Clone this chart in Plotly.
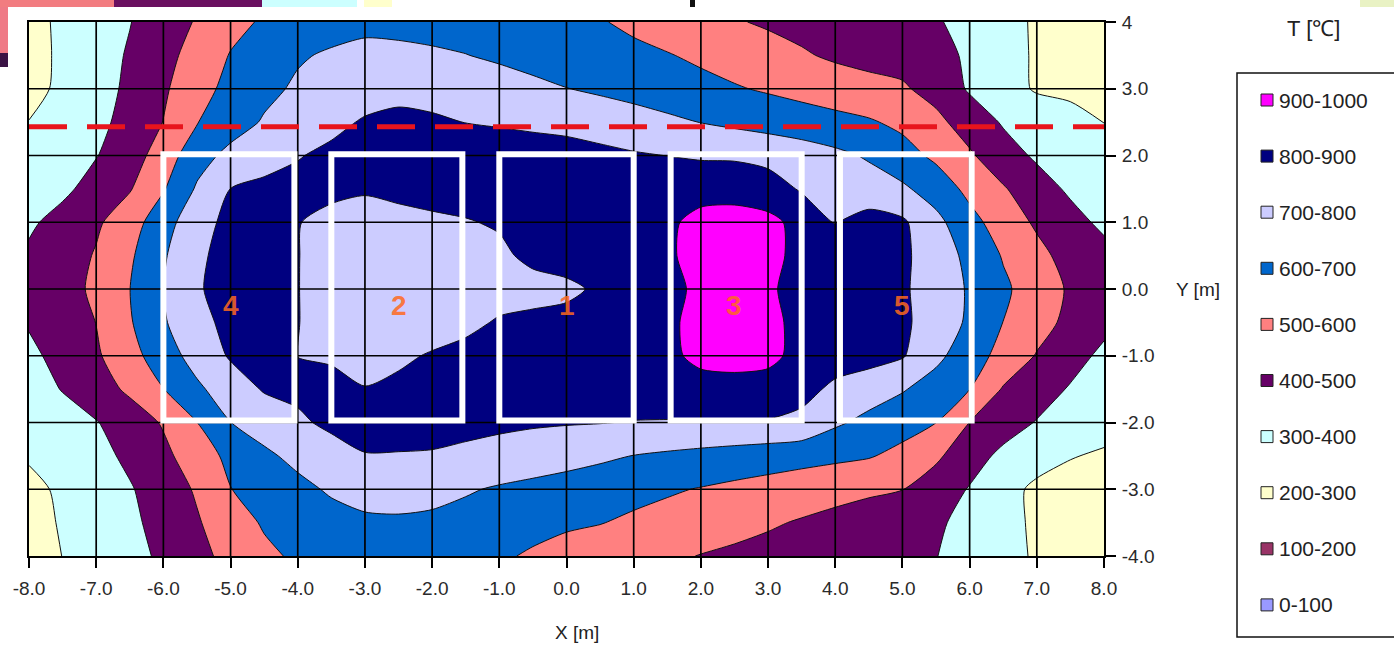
import plotly.graph_objects as go

# ---- grid coordinates (m) ----
x_m = [-8.0, -7.5, -7.0, -6.5, -6.0, -5.5, -5.0, -4.5, -4.0, -3.5, -3.0, -2.5, -2.0, -1.5, -1.0, -0.5,
       0.0, 0.5, 1.0, 1.5, 2.0, 2.5, 3.0, 3.5, 4.0, 4.5, 5.0, 5.5, 6.0, 6.5, 7.0, 7.5, 8.0]
y_m = [4.0, 3.5, 3.0, 2.5, 2.0, 1.5, 1.0, 0.5, 0.0, -0.5, -1.0, -1.5, -2.0, -2.5, -3.0, -3.5, -4.0]

# ---- measured temperatures (deg C), one list per row of y ----
t_y_p40 = [274, 315, 356, 397, 451, 508, 570, 612, 636, 661, 680, 678, 670, 662, 650, 638, 625, 606, 582, 557, 532, 507, 489, 472, 456, 440, 424, 407, 376, 332, 288, 275, 262]
t_y_p35 = [269, 315, 361, 409, 470, 536, 605, 648, 690, 712, 722, 718, 712, 702, 686, 670, 654, 637, 621, 605, 584, 559, 534, 510, 486, 470, 465, 440, 381, 335, 289, 278, 266]
t_y_p30 = [272, 318, 365, 417, 486, 564, 627, 676, 714, 741, 768, 783, 775, 760, 740, 720, 702, 682, 663, 645, 626, 608, 589, 570, 550, 531, 512, 466, 389, 340, 290, 281, 272]
t_y_p25 = [302, 340, 377, 429, 502, 596, 657, 709, 745, 782, 807, 814, 810, 799, 795, 790, 785, 770, 745, 720, 698, 680, 663, 645, 628, 610, 578, 524, 455, 391, 361, 330, 299]
t_y_p20 = [345, 370, 396, 455, 546, 662, 726, 765, 796, 815, 825, 832, 832, 830, 826, 823, 820, 816, 808, 799, 788, 785, 770, 750, 722, 689, 637, 580, 513, 440, 386, 360, 335]
t_y_p15 = [350, 380, 436, 493, 592, 711, 801, 820, 820, 812, 805, 808, 812, 820, 830, 840, 845, 850, 855, 860, 870, 872, 845, 790, 770, 745, 716, 656, 574, 509, 441, 385, 365]
t_y_p10 = [385, 433, 485, 556, 659, 764, 825, 835, 802, 785, 780, 790, 794, 797, 805, 820, 835, 848, 860, 885, 925, 930, 925, 870, 797, 835, 815, 727, 632, 553, 486, 432, 380]
t_y_p05 = [415, 450, 508, 585, 689, 785, 830, 845, 802, 770, 760, 760, 765, 775, 790, 812, 830, 850, 865, 888, 930, 940, 930, 870, 830, 840, 818, 752, 675, 593, 527, 465, 430]
t_y_000 = [430, 465, 517, 599, 699, 791, 835, 850, 802, 765, 755, 752, 755, 765, 775, 782, 785, 812, 847, 880, 915, 925, 910, 875, 835, 840, 812, 759, 689, 617, 551, 488, 455]
t_y_m05 = [410, 470, 501, 591, 690, 772, 825, 840, 802, 770, 760, 765, 772, 785, 806, 812, 822, 845, 862, 885, 925, 935, 925, 872, 835, 840, 815, 762, 683, 599, 538, 475, 425]
t_y_m10 = [375, 437, 487, 564, 655, 737, 810, 830, 799, 795, 780, 790, 805, 818, 830, 840, 848, 855, 865, 882, 920, 928, 920, 875, 835, 835, 808, 724, 644, 569, 494, 435, 380]
t_y_m15 = [350, 405, 458, 517, 598, 683, 750, 808, 815, 812, 802, 812, 825, 835, 842, 848, 852, 855, 858, 862, 870, 872, 868, 825, 784, 746, 708, 656, 601, 492, 442, 392, 360]
t_y_m20 = [330, 355, 395, 450, 509, 599, 699, 743, 788, 815, 825, 828, 826, 820, 815, 810, 806, 803, 796, 794, 793, 793, 792, 780, 715, 674, 637, 601, 499, 441, 395, 360, 330]
t_y_m25 = [310, 340, 370, 420, 477, 551, 624, 682, 725, 770, 797, 796, 794, 785, 772, 755, 738, 718, 698, 685, 672, 659, 646, 633, 620, 607, 574, 517, 439, 379, 342, 304, 290]
t_y_m30 = [275, 316, 354, 392, 448, 511, 598, 637, 675, 712, 732, 735, 728, 710, 689, 673, 657, 642, 626, 611, 595, 579, 564, 548, 533, 517, 502, 450, 394, 337, 279, 270, 262]
t_y_m35 = [268, 308, 345, 382, 430, 491, 555, 610, 640, 665, 685, 688, 682, 665, 645, 628, 612, 603, 585, 567, 548, 530, 511, 492, 472, 451, 431, 411, 378, 331, 284, 275, 266]
t_y_m40 = [265, 301, 337, 373, 415, 473, 528, 580, 615, 635, 650, 655, 648, 632, 612, 589, 570, 552, 533, 515, 497, 483, 470, 456, 443, 429, 415, 402, 367, 328, 290, 280, 270]

temp_rows = [t_y_p40, t_y_p35, t_y_p30, t_y_p25, t_y_p20, t_y_p15, t_y_p10, t_y_p05, t_y_000,
             t_y_m05, t_y_m10, t_y_m15, t_y_m20, t_y_m25, t_y_m30, t_y_m35, t_y_m40]

# ---- temperature classes ----
band_labels = ['0-100', '100-200', '200-300', '300-400', '400-500',
               '500-600', '600-700', '700-800', '800-900', '900-1000']
band_colors = ['#9999FF', '#993366', '#FFFFCC', '#CCFFFF', '#660066',
               '#FF8080', '#0066CC', '#CCCCFF', '#000080', '#FF00FF']

# ---- burner positions (x range, label) ----
box_x0 = [-6.0, -3.5, -1.0, 1.55, 4.07]
box_x1 = [-4.05, -1.55, 1.0, 3.5, 6.03]
box_y0 = -1.97
box_y1 = 2.02
box_names = ['4', '2', '1', '3', '5']
box_label_x = [-5.0, -2.5, 0.0, 2.5, 5.0]
box_label_y = -0.25

# ---- reference line ----
ref_line_y = 2.43

# ---- axis ticks ----
x_ticks = [-8, -7, -6, -5, -4, -3, -2, -1, 0, 1, 2, 3, 4, 5, 6, 7, 8]
x_ticktext = ['-8.0', '-7.0', '-6.0', '-5.0', '-4.0', '-3.0', '-2.0', '-1.0', '0.0',
              '1.0', '2.0', '3.0', '4.0', '5.0', '6.0', '7.0', '8.0']
y_ticks = [-4, -3, -2, -1, 0, 1, 2, 3, 4]
y_ticktext = ['-4.0', '-3.0', '-2.0', '-1.0', '0.0', '1.0', '2.0', '3.0', '4']

# stepwise colour scale: one flat step per 100 degC class
scale = []
for i, c in enumerate(band_colors):
    scale.append([i / 10, c])
    scale.append([(i + 1) / 10, c])

FONT = 'Liberation Sans, Arial, sans-serif'
W, H = 1394, 645
L, R, T, B = 29, 290, 22, 89


def px_x(p):
    return (p - L) / (W - L - R)


def px_y(p):
    return (H - B - p) / (H - T - B)


fig = go.Figure()
fig.add_trace(go.Contour(
    x=x_m, y=y_m, z=temp_rows,
    zmin=0, zmax=1000, autocontour=False,
    contours=dict(start=100, end=900, size=100, coloring='fill', showlines=True),
    colorscale=scale, showscale=False,
    line=dict(color='#111111', width=1, smoothing=0.7),
    hoverinfo='skip',
))

shapes = []
# grid lines drawn over the filled contours
for xv in x_ticks[1:-1]:
    shapes.append(dict(type='line', xref='x', yref='y', x0=xv, x1=xv, y0=-4, y1=4,
                       line=dict(color='#000000', width=1.7), layer='above'))
for yv in y_ticks[1:-1]:
    shapes.append(dict(type='line', xref='x', yref='y', x0=-8, x1=8, y0=yv, y1=yv,
                       line=dict(color='#000000', width=1.7), layer='above'))
# burner frames
for a, b in zip(box_x0, box_x1):
    shapes.append(dict(type='rect', xref='x', yref='y', x0=a, x1=b, y0=box_y0, y1=box_y1,
                       line=dict(color='#FFFFFF', width=6), fillcolor='rgba(0,0,0,0)', layer='above'))
# dashed reference line
shapes.append(dict(type='line', xref='x', yref='y', x0=-8, x1=8, y0=ref_line_y, y1=ref_line_y,
                   line=dict(color='#E8141C', width=5, dash='38px,20px'), layer='above'))

# fragments of neighbouring artwork along the top/left border
frag = [((0, 0, 8, 54), '#EF7A86'), ((0, 53, 8, 67), '#3B1345'),
        ((0, 0, 114, 7), '#F27C80'), ((114, 0, 262, 7), '#6A1060'),
        ((262, 0, 357, 7), '#CCFFFF'), ((364, 0, 392, 7), '#FFFFCC'),
        ((690, 0, 695, 7), '#111111'), ((1360, 0, 1394, 7), '#E9F2C4')]
for (x0, y0, x1, y1), c in frag:
    shapes.append(dict(type='rect', xref='paper', yref='paper', x0=px_x(x0), x1=px_x(x1),
                       y0=px_y(y1), y1=px_y(y0), line=dict(width=0), fillcolor=c, layer='above'))

# legend frame
shapes.append(dict(type='rect', xref='paper', yref='paper', x0=px_x(1237), x1=px_x(1402),
                   y0=px_y(637), y1=px_y(73), line=dict(color='#111111', width=1.5),
                   fillcolor='rgba(0,0,0,0)'))

annotations = []
for name, lx in zip(box_names, box_label_x):
    annotations.append(dict(x=lx, y=box_label_y, xref='x', yref='y', text='<b>%s</b>' % name,
                            showarrow=False, xanchor='center', yanchor='middle',
                            font=dict(family=FONT, size=28, color='rgba(255,105,30,0.85)')))

# legend entries, hottest class first
for k, idx in enumerate(range(9, -1, -1)):
    cy = 100 + 56.1 * k
    shapes.append(dict(type='rect', xref='paper', yref='paper', x0=px_x(1261), x1=px_x(1273),
                       y0=px_y(cy + 6), y1=px_y(cy - 6), fillcolor=band_colors[idx],
                       line=dict(color='#222222', width=1)))
    annotations.append(dict(x=px_x(1277), y=px_y(cy), xref='paper', yref='paper',
                            text=band_labels[idx], showarrow=False, xanchor='left', yanchor='middle',
                            font=dict(family=FONT, size=21, color='#222222')))

annotations.append(dict(x=px_x(1313), y=px_y(28), xref='paper', yref='paper', text='T [℃]',
                        showarrow=False, xanchor='center', yanchor='middle',
                        font=dict(family=FONT, size=22, color='#222222')))
annotations.append(dict(x=px_x(577), y=px_y(632), xref='paper', yref='paper', text='X [m]',
                        showarrow=False, xanchor='center', yanchor='middle',
                        font=dict(family=FONT, size=19, color='#222222')))
annotations.append(dict(x=px_x(1174), y=0, xref='paper', yref='y', text='Y [m]',
                        showarrow=False, xanchor='left', yanchor='middle',
                        font=dict(family=FONT, size=19, color='#222222')))

fig.update_layout(
    width=W, height=H,
    margin=dict(l=L, r=R, t=T, b=B),
    paper_bgcolor='white', plot_bgcolor='white',
    shapes=shapes, annotations=annotations,
    showlegend=False,
    xaxis=dict(range=[-8, 8], tickvals=x_ticks, ticktext=x_ticktext, showgrid=False, zeroline=False,
               showline=True, linecolor='#000000', linewidth=2, mirror=True,
               ticks='outside', ticklen=10, tickwidth=2, tickcolor='#000000', ticklabelstandoff=4,
               tickfont=dict(family=FONT, size=19, color='#2a2a2a')),
    yaxis=dict(range=[-4, 4], tickvals=y_ticks, ticktext=y_ticktext, side='right', showgrid=False,
               zeroline=False, showline=True, linecolor='#000000', linewidth=2, mirror=True,
               ticks='outside', ticklen=10, tickwidth=2, tickcolor='#000000', ticklabelstandoff=2,
               tickfont=dict(family=FONT, size=19, color='#2a2a2a')),
)

fig.write_html('out.html')
